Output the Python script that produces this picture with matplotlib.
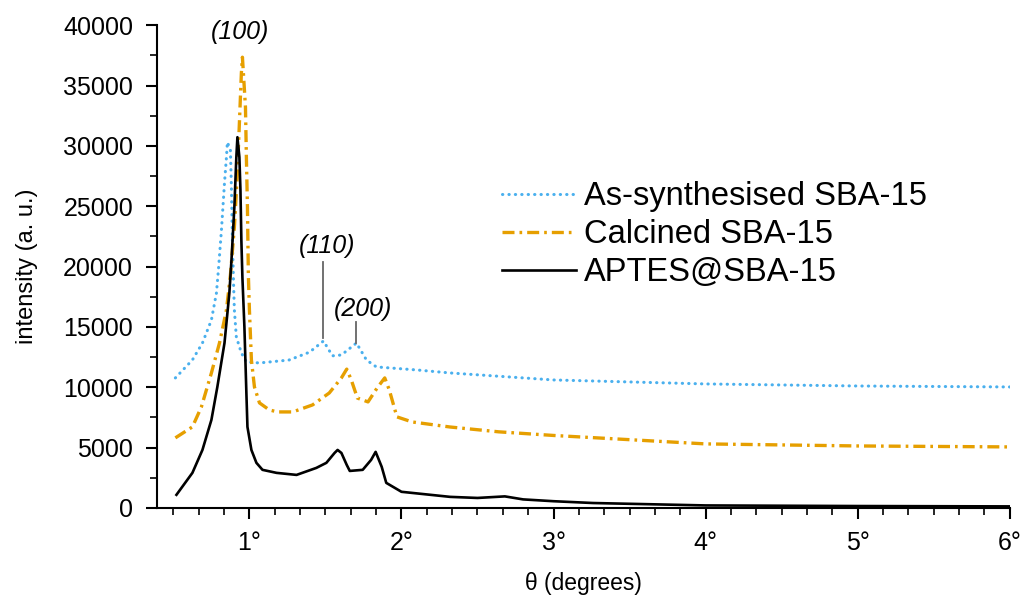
import matplotlib.pyplot as plt
from matplotlib.ticker import FixedLocator, MultipleLocator

plt.rcParams['font.family'] = ['Liberation Sans', 'DejaVu Sans']

# As-synthesised SBA-15 (dotted blue)
theta_as = [0.513, 0.625, 0.691, 0.75, 0.783, 0.796, 0.816, 0.836, 0.849, 0.855, 0.875, 0.882,
            0.888, 0.895, 0.901, 0.914, 0.947, 0.98, 1.066, 1.26, 1.395, 1.487, 1.546, 1.605,
            1.704, 1.77, 1.835, 2.1, 2.32, 3.0, 4.0, 5.0, 6.0]
int_as = [10770, 12260, 13660, 15570, 17800, 19710, 23020, 26920, 29070, 30310, 29650, 26340,
          22190, 18880, 16400, 14160, 12840, 12090, 12010, 12250, 12900, 13830, 12600, 12670,
          13660, 12250, 11680, 11430, 11180, 10600, 10270, 10100, 10020]

# Calcined SBA-15 (dash-dot orange)
theta_cal = [0.513, 0.625, 0.684, 0.75, 0.803, 0.849, 0.875, 0.901, 0.921, 0.934, 0.947, 0.954,
             0.974, 0.98, 0.987, 0.993, 1.0, 1.013, 1.033, 1.066, 1.13, 1.184, 1.285, 1.415,
             1.525, 1.605, 1.64, 1.67, 1.71, 1.78, 1.84, 1.89, 1.92, 1.97, 2.07, 2.32, 2.64,
             3.0, 4.0, 5.0, 6.0]
int_cal = [5800, 6710, 8360, 11180, 13660, 16400, 19300, 23270, 27740, 31880, 36020, 37350,
           33210, 29070, 24930, 19300, 16400, 12260, 10020, 8700, 8120, 7950, 7950, 8530,
           9520, 10770, 11500, 10600, 9100, 8780, 9940, 10770, 9770, 7540, 7120, 6700, 6300,
           6000, 5300, 5130, 5050]

# APTES@SBA-15 (solid black)
theta_ap = [0.52, 0.625, 0.691, 0.75, 0.789, 0.836, 0.868, 0.882, 0.901, 0.914, 0.921, 0.934,
            0.941, 0.947, 0.954, 0.967, 0.98, 0.987, 1.013, 1.046, 1.086, 1.178, 1.31, 1.44,
            1.506, 1.56, 1.58, 1.605, 1.64, 1.66, 1.745, 1.80, 1.83, 1.87, 1.90, 2.0, 2.32,
            2.5, 2.68, 2.8, 3.0, 3.26, 4.0, 5.0, 6.0]
int_ap = [1080, 2900, 4800, 7290, 10020, 13660, 17800, 20540, 24930, 29070, 30720, 29070,
          26340, 22190, 19050, 14990, 9520, 6710, 4800, 3730, 3150, 2900, 2730, 3310,
          3730, 4550, 4800, 4550, 3560, 3060, 3150, 3970, 4640, 3400, 2070, 1330, 910,
          820, 950, 700, 550, 400, 200, 150, 120]

fig = plt.figure(figsize=(10.24, 6.01), dpi=100)
ax = fig.add_axes([0.153, 0.155, 0.833, 0.803])

ax.plot(theta_as, int_as, color='#4AB0EE', lw=2.2, linestyle=(0, (0.1, 2.0)),
        dash_capstyle='round', label='As-synthesised SBA-15')
ax.plot(theta_cal, int_cal, color='#E69F00', lw=2.4, linestyle=(0, (3.6, 1.5, 0.8, 1.5)),
        label='Calcined SBA-15')
ax.plot(theta_ap, int_ap, color='black', lw=1.9, label='APTES@SBA-15')

# peak labels
ax.text(0.94, 39400, '(100)', style='italic', fontsize=18, ha='center', va='center')
ax.text(1.51, 21700, '(110)', style='italic', fontsize=18, ha='center', va='center')
ax.text(1.745, 16450, '(200)', style='italic', fontsize=18, ha='center', va='center')
ax.plot([1.487, 1.487], [14100, 20400], color='#666666', lw=1.3)
ax.plot([1.70, 1.70], [13700, 15400], color='#666666', lw=1.3)

ax.set_xlim(0.39, 6.0)
ax.set_ylim(0, 40000)
ax.xaxis.set_major_locator(FixedLocator([1, 2, 3, 4, 5, 6]))
ax.set_xticklabels([f'{i}°' for i in range(1, 7)])
ax.xaxis.set_minor_locator(MultipleLocator(1 / 6))
ax.yaxis.set_major_locator(MultipleLocator(5000))
ax.yaxis.set_minor_locator(MultipleLocator(2500))

for s in ['top', 'right']:
    ax.spines[s].set_visible(False)
for s in ['left', 'bottom']:
    ax.spines[s].set_linewidth(1.5)
ax.tick_params(which='major', direction='out', length=8, width=1.5, labelsize=18, pad=9)
ax.tick_params(which='minor', direction='out', length=5, width=1.2)

ax.set_xlabel('θ (degrees)', fontsize=16.5, labelpad=12)
ax.set_ylabel('intensity (a. u.)', fontsize=17, labelpad=18)

ax.legend(loc='upper left', bbox_to_anchor=(0.405, 0.677), frameon=False, fontsize=23.5,
          handlelength=2.27, handletextpad=0.25, labelspacing=0.22, borderpad=0, borderaxespad=0)

fig.savefig('out.png', dpi=100)
